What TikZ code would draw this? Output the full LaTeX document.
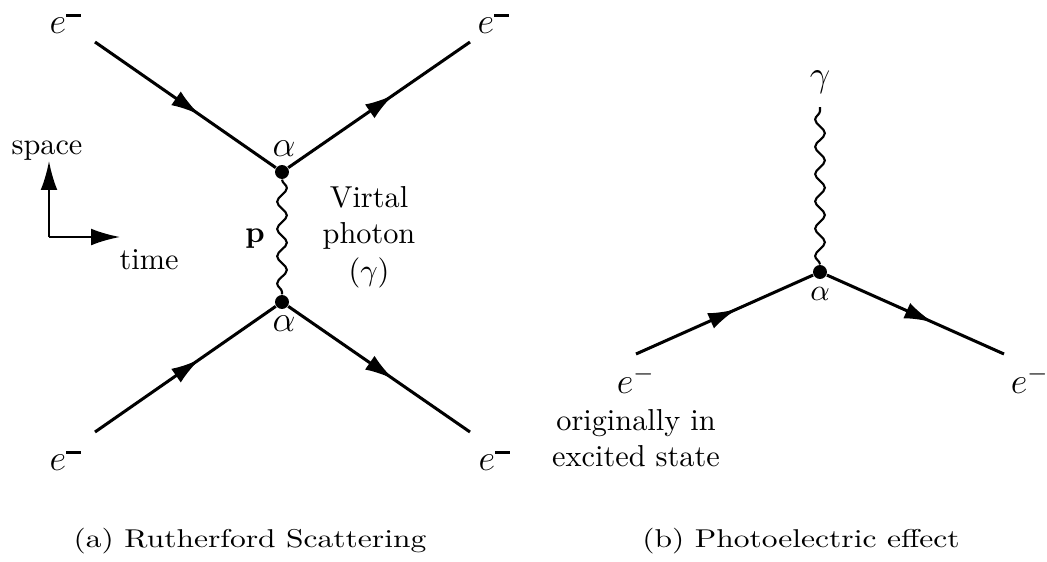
\documentclass[tikz,border=0pt]{standalone}
\usetikzlibrary{arrows.meta,decorations.markings,decorations.pathmorphing}
\begin{document}
\begin{tikzpicture}[x=0.33pt,y=-0.33pt,
 tip/.tip={Latex[length=9.5pt,width=5.5pt]},
 fermion/.style={line width=1pt, postaction={decorate}, decoration={markings, mark=at position #1 with {\arrow{tip}}}},
 fermion/.default=0.58,
 photon/.style={line width=0.7pt, decorate, decoration={snake, segment length=9pt, amplitude=1.6pt}},
 vtx/.style={circle, fill, inner sep=0pt, minimum size=4.6pt},
 lbl/.style={inner sep=1pt},
 elbl/.style={inner sep=0pt, anchor=base west, font=\large},
 axis/.style={line width=0.7pt,-tip},
 captxt/.style={inner sep=0pt}]
\useasboundingbox (0,0) rectangle (1047,561);
\newcommand{\emin}{$e^{\rule[1pt]{5pt}{0.9pt}}$}
% ---------- (a) Rutherford scattering ----------
\coordinate (tl) at (95,42);
\coordinate (tr) at (470,42);
\coordinate (bl) at (95,432);
\coordinate (br) at (470,432);
\node[vtx] (va) at (282,172) {};
\node[vtx] (vb) at (282,302) {};
\draw[fermion] (tl) -- (va);
\draw[fermion] (va) -- (tr);
\draw[fermion] (bl) -- (vb);
\draw[fermion] (vb) -- (br);
\draw[photon] (va) -- (vb);
\node[elbl] (etl) at (49,33) {\emin};
\node[elbl] (etr) at (477,33) {\emin};
\node[elbl] (ebl) at (49,470) {\emin};
\node[elbl] (ebr) at (478,470) {\emin};
\node[lbl] (aa) at (284,149) {\large $\alpha$};
\node[lbl] (ab) at (284,324) {\large $\alpha$};
\node[lbl] (p) at (255,239) {$\mathbf{p}$};
\node[lbl, align=center] (vp) at (369,237) {Virtal\\photon\\$(\gamma)$};
% axes
\coordinate (o) at (49,237);
\coordinate (up) at (49,161);
\coordinate (rt) at (120,237);
\draw[axis] (o) -- (up);
\draw[axis] (o) -- (rt);
\node[lbl] (sp) at (47,151) {space};
\node[lbl] (tm) at (149,260) {time};
% ---------- (b) Photoelectric effect ----------
\coordinate (pl) at (636,354);
\coordinate (pr) at (1004,354);
\coordinate (pg) at (820,107);
\node[vtx] (vc) at (820,272) {};
\draw[fermion=0.57] (pl) -- (vc);
\draw[fermion=0.6] (vc) -- (pr);
\draw[photon] (vc) -- (pg);
\node[lbl] (gam) at (820,82) {\large $\gamma$};
\node[lbl] (ac) at (820,294) {$\alpha$};
\node[lbl] (el) at (636,380) {\large $e^-$};
\node[lbl] (er) at (1030,380) {\large $e^-$};
\node[lbl, align=center] (orig) at (636,438) {originally in\\excited state};
% captions
\node[captxt] (ca) at (250,541) {\scalebox{1.04}[0.85]{(a) Rutherford Scattering}};
\node[captxt] (cb) at (801,541) {\scalebox{1.04}[0.85]{(b) Photoelectric effect}};
\end{tikzpicture}
\end{document}
